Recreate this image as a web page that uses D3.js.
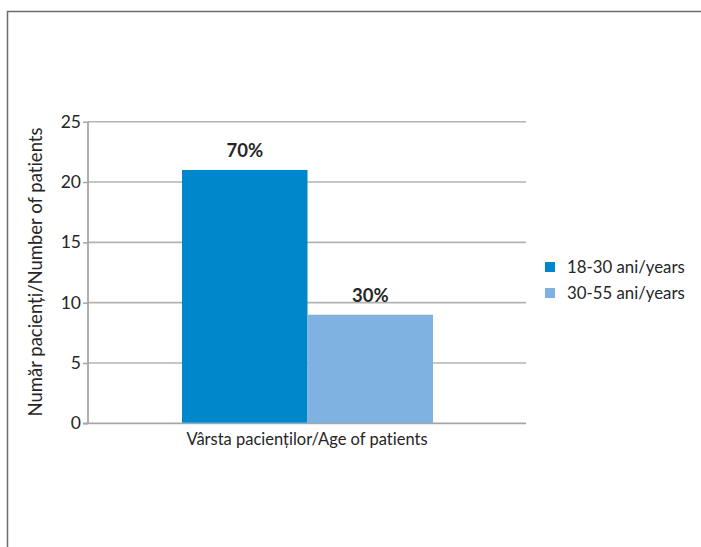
<!DOCTYPE html>
<html><head><meta charset="utf-8">
<script src="https://cdn.jsdelivr.net/npm/d3@7"></script>
<style>body{margin:0;background:#fff;}svg{display:block;font-family:Lato,"Open Sans",sans-serif;font-variant-ligatures:none;}</style>
</head><body>
<svg id="c" width="701" height="547"></svg>
<script>
const category = "Vârsta pacienților/Age of patients";
const seriesNames = ["18-30 ani/years", "30-55 ani/years"];
const seriesValues = [21, 9];
const seriesLabels = ["70%", "30%"];
const seriesColors = ["#0086cb", "#7fb2e0"];
const yTicks = [0, 5, 10, 15, 20, 25];
const yTitle = "Număr pacienți/Number of patients";

const svg = d3.select("#c");
// frame
svg.append("path").attr("d","M7.5,547V11.5H701").attr("fill","none").attr("stroke","#6b6b6b").attr("stroke-width",1.5);

const x0 = 88, x1 = 526, yTop = 121.7, yBot = 423.3;
const y = d3.scaleLinear().domain([0,25]).range([yBot,yTop]);
const xBand = d3.scaleBand().domain([category]).range([x0,x1]);
const xInner = d3.scaleBand().domain(seriesNames).range([182, 433]);

// grid
svg.append("g").selectAll("line").data(yTicks.filter(d=>d>0)).join("line")
  .attr("x1",x0).attr("x2",x1).attr("y1",d=>y(d)).attr("y2",d=>y(d))
  .attr("stroke","#b3b3b3").attr("stroke-width",1.6);

// bars
svg.append("g").selectAll("rect").data(seriesValues).join("rect")
  .attr("x",(d,i)=>xInner(seriesNames[i])).attr("width",xInner.bandwidth())
  .attr("y",d=>y(d)).attr("height",d=>yBot-y(d)).attr("fill",(d,i)=>seriesColors[i]);

// labels
svg.append("g").selectAll("text").data(seriesValues).join("text")
  .attr("x",(d,i)=>xInner(seriesNames[i])+xInner.bandwidth()/2)
  .attr("y",d=>y(d)-13).attr("text-anchor","middle")
  .attr("font-weight","bold").attr("font-size",18.5).attr("fill","#262626")
  .text((d,i)=>seriesLabels[i]);

// y axis
const ya = d3.axisLeft(y).tickValues(yTicks).tickSize(5).tickPadding(2);
const gy = svg.append("g").attr("transform",`translate(${x0},0)`).call(ya);
gy.select(".domain").attr("stroke","#a6a6a6").attr("stroke-width",1.8).attr("d",`M0,${yTop}V${yBot}`);
gy.selectAll(".tick line").attr("stroke","#a6a6a6").attr("stroke-width",1.5);
gy.selectAll(".tick text").attr("font-size",17.5).attr("fill","#262626").attr("font-family","Lato,'Open Sans',sans-serif");

// x axis
const xa = d3.axisBottom(xBand).tickSize(0).tickPadding(10);
const gx = svg.append("g").attr("transform",`translate(0,${yBot})`).call(xa);
gx.select(".domain").attr("stroke","#a6a6a6").attr("stroke-width",1.8).attr("d",`M${x0-5},0H${x1}`);
gx.selectAll(".tick text").attr("font-size",16.5).attr("fill","#262626").attr("font-family","Lato,'Open Sans',sans-serif");

// y title
svg.append("text").attr("transform","translate(42,272) rotate(-90)").attr("text-anchor","middle")
  .attr("font-size",18.5).attr("fill","#262626").text(yTitle);

// legend
const lg = svg.append("g").selectAll("g").data(seriesNames).join("g")
  .attr("transform",(d,i)=>`translate(545,${262+i*26})`);
lg.append("rect").attr("width",10).attr("height",10).attr("fill",(d,i)=>seriesColors[i]);
lg.append("text").attr("x",22).attr("y",11).attr("font-size",16.8).attr("fill","#262626").text(d=>d);
</script>
</body></html>
